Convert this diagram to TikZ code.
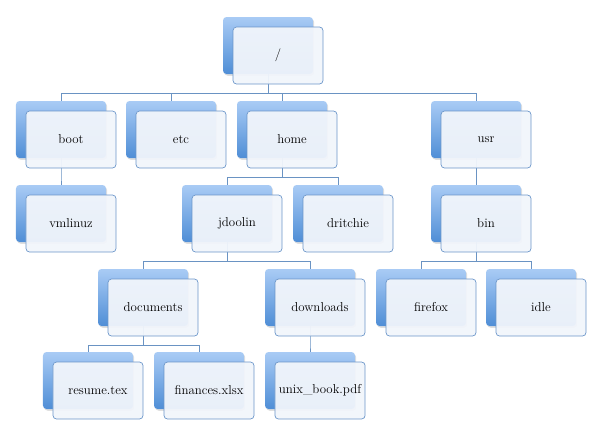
\documentclass[tikz,border=0pt]{standalone}
\usepackage{xcolor}
\usetikzlibrary{shadows}
\definecolor{boxtop}{HTML}{A9CBF5}
\definecolor{boxbottom}{HTML}{4F8ED6}
\definecolor{boxline}{HTML}{6B96C9}
\definecolor{boxfill}{HTML}{F1F5FB}
\definecolor{linkcol}{HTML}{6A93C3}

\begin{document}
\begin{tikzpicture}[x=0.03cm, y=-0.03cm,
    backbox/.style={rectangle, rounded corners=3pt,
        minimum width=2.7cm, minimum height=1.71cm,
        top color=boxtop, bottom color=boxbottom,
        drop shadow={shadow xshift=1pt, shadow yshift=-1.5pt, opacity=0.25}},
    frontbox/.style={rectangle, rounded corners=3pt,
        minimum width=2.7cm, minimum height=1.71cm,
        draw=boxline, line width=0.6pt,
        fill=boxfill, fill opacity=0.95, text opacity=1,
        font=\fontsize{11}{13}\selectfont},
    link/.style={draw=linkcol, line width=0.6pt}]

\useasboundingbox (0,0) rectangle (600,437);

% Back boxes
\node[backbox] (root-b) at (268,45.5) {};
\foreach \n/\x/\y in {boot/61/129.5, etc/171/129.5, home/282/129.5, usr/476/129.5,
    vmlinuz/61/213.5, jdoolin/227/213.5, dritchie/338/213.5, bin/476/213.5,
    documents/143/297.5, downloads/310/297.5, firefox/421/297.5, idle/531/297.5,
    resume/88/380.5, finances/199/380.5, unixbook/310/380.5}
{
    \node[backbox] (\n-b) at (\x,\y) {};
}

% Connect parent to child
\foreach \p/\c in {root/boot, root/etc, root/home, root/usr,
    boot/vmlinuz, home/jdoolin, home/dritchie, usr/bin,
    jdoolin/documents, jdoolin/downloads, bin/firefox, bin/idle,
    documents/resume, documents/finances, downloads/unixbook}
{
    \draw[link] (\p-b.south) -- ++(0,19) -| (\c-b.north);
}

% Front boxes
\node[frontbox] (root) at (278,55.5) {/};
\foreach \n/\x/\y/\t in {boot/61/129.5/boot, etc/171/129.5/etc, home/282/129.5/home, usr/476/129.5/usr,
    vmlinuz/61/213.5/vmlinuz, jdoolin/227/213.5/jdoolin, dritchie/338/213.5/dritchie, bin/476/213.5/bin,
    documents/143/297.5/documents, downloads/310/297.5/downloads, firefox/421/297.5/firefox, idle/531/297.5/idle,
    resume/88/380.5/resume.tex, finances/199/380.5/finances.xlsx, unixbook/310/380.5/unix\_book.pdf}
{
    \node[frontbox] (\n) at (\x+10,\y+10) {\t};
}

\end{tikzpicture}
\end{document}
